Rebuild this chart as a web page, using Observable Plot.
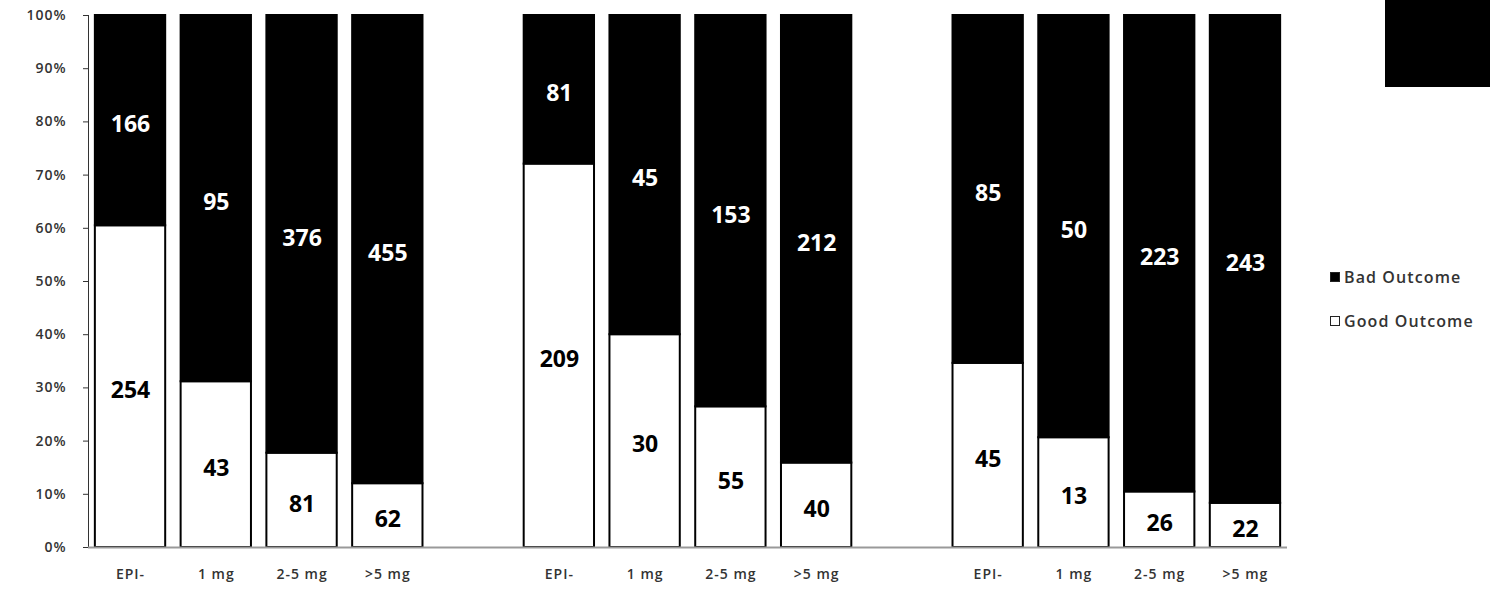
<!DOCTYPE html>
<html>
<head>
<meta charset="utf-8">
<script src="https://cdn.jsdelivr.net/npm/d3@7"></script>
<script src="https://cdn.jsdelivr.net/npm/@observablehq/plot@0.6"></script>
<style>
  html, body { margin: 0; padding: 0; background: #fff; }
  #wrap { position: relative; width: 1510px; height: 598px; font-family: "Open Sans", sans-serif; }
  #box { position: absolute; left: 1385px; top: 0; width: 105px; height: 87px; background: #000; }
  .leg { position: absolute; left: 1330px; font-size: 16px; font-weight: 600; letter-spacing: 1.1px; color: #333; display: flex; align-items: center; white-space: nowrap; }
  .sw { width: 10px; height: 10px; border: 1.5px solid #222; margin-right: 4px; box-sizing: border-box; }
  #chart svg g[aria-label="x-axis tick label"] text,
  #chart svg g[aria-label="y-axis tick label"] text { font-weight: 600; letter-spacing: 1px; }
</style>
</head>
<body>
<div id="wrap">
  <div id="chart"></div>
  <div id="box"></div>
  <div class="leg" style="top:266px"><span class="sw" style="background:#000"></span>Bad Outcome</div>
  <div class="leg" style="top:310px"><span class="sw" style="background:#fff"></span>Good Outcome</div>
</div>
<script>
const groups = ["A", "B", "C"];
const doses = ["EPI-", "1 mg", "2-5 mg", ">5 mg"];
const goodCounts = [[254, 43, 81, 62], [209, 30, 55, 40], [45, 13, 26, 22]];
const badCounts = [[166, 95, 376, 455], [81, 45, 153, 212], [85, 50, 223, 243]];
const outcomes = ["Good Outcome", "Bad Outcome"];
const yTicks = [0, 0.1, 0.2, 0.3, 0.4, 0.5, 0.6, 0.7, 0.8, 0.9, 1];

// x domain: 4 bars per group with an empty slot between groups
const xDomain = [];
groups.forEach((g, gi) => {
  doses.forEach(d => xDomain.push(g + "|" + d));
  if (gi < groups.length - 1) xDomain.push(g + "|gap");
});

const rows = [];
groups.forEach((g, gi) => {
  doses.forEach((d, di) => {
    rows.push({key: g + "|" + d, outcome: outcomes[0], count: goodCounts[gi][di]});
  });
});
groups.forEach((g, gi) => {
  doses.forEach((d, di) => {
    rows.push({key: g + "|" + d, outcome: outcomes[1], count: badCounts[gi][di]});
  });
});

const chart = Plot.plot({
  width: 1510,
  height: 598,
  marginLeft: 88,
  marginRight: 223,
  marginTop: 15,
  marginBottom: 51,
  style: {fontFamily: "Open Sans, sans-serif", fontSize: "14px", color: "#333", background: "#fff"},
  x: {
    domain: xDomain,
    paddingInner: 0.18,
    paddingOuter: 0.08,
    round: false,
    label: null,
    tickSize: 0,
    tickPadding: 22,
    tickFormat: k => { const s = k.split("|")[1]; return s === "gap" ? "" : s; }
  },
  y: {
    domain: [0, 1],
    ticks: yTicks,
    tickFormat: d3.format(".0%"),
    label: null,
    tickSize: 5,
    tickPadding: 17,
    line: true
  },
  color: {domain: outcomes, range: ["#fff", "#000"]},
  marks: [
    Plot.barY(rows, Plot.stackY({
      x: "key", y: "count", z: "outcome", fill: "outcome",
      offset: "normalize", order: outcomes,
      stroke: "#000", strokeWidth: 2
    })),
    Plot.ruleY([0], {stroke: "#999", strokeWidth: 2}),
    Plot.text(rows, Plot.stackY({
      x: "key", y: "count", z: "outcome", text: "count",
      offset: "normalize", order: outcomes,
      fill: d => d.outcome === outcomes[1] ? "#fff" : "#000",
      fontSize: 23, fontWeight: "bold", dy: 4
    }))
  ]
});
document.getElementById("chart").appendChild(chart);
</script>
</body>
</html>
